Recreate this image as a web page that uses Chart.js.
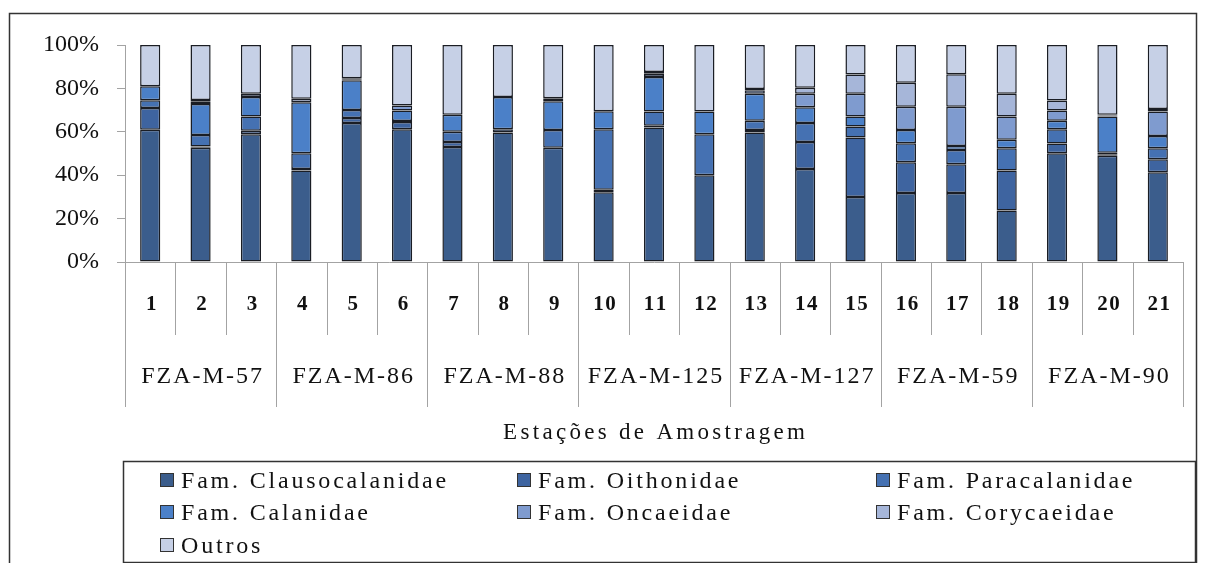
<!DOCTYPE html>
<html>
<head>
<meta charset="utf-8">
<script src="https://cdn.jsdelivr.net/npm/chart.js@4.4.1/dist/chart.umd.min.js"></script>
</head>
<body style="margin:0">
<canvas id="copepodChart" width="1206" height="563"></canvas>
<script>
// Stations and the cruise each group of three belongs to
const stations = ['1','2','3','4','5','6','7','8','9','10','11','12','13','14','15','16','17','18','19','20','21'];
const cruises = ['FZA-M-57','FZA-M-86','FZA-M-88','FZA-M-125','FZA-M-127','FZA-M-59','FZA-M-90'];
const stationsPerCruise = 3;

// Relative abundance (%) per station
const clausocalanidae = [61, 52.7, 58.9, 42.2, 64, 61.2, 53, 59.7, 52.7, 32.2, 62, 40, 59.7, 42.9, 29.9, 31.8, 31.8, 23.7, 50.1, 49, 41.4];
const oithonidae      = [10, 0.5, 1.6, 0.6, 2.4, 3.3, 2.3, 1.5, 0, 1.1, 0.8, 0, 1.1, 12.4, 27.5, 14.2, 13.2, 18.5, 4.5, 0.6, 5.9];
const paracalanidae   = [3.5, 5.3, 6.6, 7.3, 3.7, 0.5, 4.7, 0, 8.1, 27.9, 6.5, 18.9, 4.3, 8.7, 5.1, 8.7, 6.6, 10.2, 6.6, 0.8, 5.1];
const calanidae       = [6.5, 14.3, 8.9, 23.5, 13.6, 4.8, 7.9, 14.8, 13.3, 8.3, 16, 10.4, 12.4, 7.3, 4.5, 6.1, 1.9, 3.9, 3.9, 16.6, 5.7];
const oncaeidae       = [0, 1, 0, 0, 0.5, 2.3, 0, 0, 1.4, 0, 1.5, 0, 1.6, 6.2, 10.5, 10.8, 18.1, 10.8, 4.7, 0.5, 11.2];
const corycaeidae     = [0, 0.8, 1.5, 1.6, 0.5, 0, 0, 0, 0, 0, 0.8, 0, 0.6, 2.8, 8.9, 11, 14.9, 10.4, 4.6, 0.4, 1.2];
const outros          = [19, 25.4, 22.5, 24.8, 15.3, 27.9, 32.1, 24, 24.5, 30.5, 12.4, 30.7, 20.3, 19.7, 13.6, 17.4, 13.5, 22.5, 25.6, 32.1, 29.5];

const yTicks = [0, 20, 40, 60, 80, 100];

const serifFamily = '"Liberation Serif"';
const lineGray = '#a3a3a3';

Chart.defaults.font.family = serifFamily;

function series(label, data, color) {
  return {
    label: label,
    data: data,
    backgroundColor: color,
    borderColor: '#1a1d24',
    borderWidth: 1.5,
    borderSkipped: false,
    barPercentage: 0.4,
    categoryPercentage: 1.0
  };
}

// letters spaced by hand, like the wide serif of the original
function spacedText(c, text, x, y, sp, align) {
  const chars = Array.from(text);
  const widths = chars.map(ch => c.measureText(ch).width);
  const total = widths.reduce((a, b) => a + b, 0) + sp * (chars.length - 1);
  let cx = align === 'center' ? x - total / 2 : x;
  c.textAlign = 'left';
  chars.forEach((ch, i) => {
    c.fillText(ch, cx, y);
    cx += widths[i] + sp;
  });
}

// white page and outer frame
const framePlugin = {
  id: 'frame',
  beforeDraw(chart) {
    const c = chart.ctx;
    c.save();
    c.fillStyle = '#fff';
    c.fillRect(0, 0, chart.width, chart.height);
    c.strokeStyle = '#333';
    c.lineWidth = 1.5;
    c.strokeRect(9.5, 13.5, 1187, 580);
    c.restore();
  }
};

// two-level category axis: station numbers, cruise names, axis title
const groupAxisPlugin = {
  id: 'groupAxis',
  afterDraw(chart) {
    const c = chart.ctx;
    const x = chart.scales.x;
    const area = chart.chartArea;
    const bottom = area.bottom;
    const n = stations.length;
    const edge = i => {
      if (i === 0) return x.left;
      if (i === n) return x.right;
      return (x.getPixelForValue(i - 1) + x.getPixelForValue(i)) / 2;
    };

    c.save();
    c.strokeStyle = lineGray;
    c.lineWidth = 1;
    for (let i = 0; i <= n; i++) {
      const px = Math.round(edge(i)) + 0.5;
      const isGroup = i % stationsPerCruise === 0;
      c.beginPath();
      c.moveTo(px, bottom);
      c.lineTo(px, isGroup ? bottom + 145 : bottom + 73);
      c.stroke();
    }

    c.fillStyle = '#111';
    c.textBaseline = 'alphabetic';
    c.font = 'bold 21px ' + serifFamily;
    stations.forEach((s, i) => {
      spacedText(c, s, x.getPixelForValue(i) + 1, bottom + 48, 1.5, 'center');
    });

    c.font = '24px ' + serifFamily;
    cruises.forEach((name, g) => {
      const mid = (edge(g * stationsPerCruise) + edge((g + 1) * stationsPerCruise)) / 2;
      spacedText(c, name, mid + 1, bottom + 121, 2, 'center');
    });

    c.font = '23px ' + serifFamily;
    spacedText(c, 'Estações de Amostragem', (area.left + area.right) / 2, bottom + 177, 3.3, 'center');
    c.restore();
  }
};

// boxed legend in three columns
const boxLegendPlugin = {
  id: 'boxLegend',
  afterDraw(chart) {
    const c = chart.ctx;
    const sets = chart.data.datasets;
    const boxLeft = 123, boxTop = 461, boxRight = 1195, boxBottom = 562;
    const colX = [160, 517, 876];
    const rowY = [480, 512, 545];
    c.save();
    c.strokeStyle = '#333';
    c.lineWidth = 1.5;
    c.strokeRect(boxLeft + 0.5, boxTop + 0.5, boxRight - boxLeft, boxBottom - boxTop);
    c.font = '24px ' + serifFamily;
    c.textBaseline = 'alphabetic';
    sets.forEach((ds, i) => {
      const cx = colX[i % 3];
      const cy = rowY[Math.floor(i / 3)];
      c.fillStyle = ds.backgroundColor;
      c.fillRect(cx, cy - 7, 14, 14);
      c.strokeStyle = '#333';
      c.lineWidth = 1;
      c.strokeRect(cx + 0.5, cy - 6.5, 13, 13);
      c.fillStyle = '#111';
      spacedText(c, ds.label, cx + 21, cy + 8, 2.8, 'left');
    });
    c.restore();
  }
};

const copepodChart = new Chart(document.getElementById('copepodChart'), {
  type: 'bar',
  data: {
    labels: stations,
    datasets: [
      series('Fam. Clausocalanidae', clausocalanidae, '#3b5d8c'),
      series('Fam. Oithonidae', oithonidae, '#3e64a0'),
      series('Fam. Paracalanidae', paracalanidae, '#4571b2'),
      series('Fam. Calanidae', calanidae, '#4b80c8'),
      series('Fam. Oncaeidae', oncaeidae, '#7f9bcf'),
      series('Fam. Corycaeidae', corycaeidae, '#a6b6d9'),
      series('Outros', outros, '#c6d0e6')
    ]
  },
  options: {
    responsive: false,
    animation: false,
    layout: {
      padding: { top: 45, left: 10, right: 23, bottom: 0 }
    },
    plugins: {
      legend: { display: false },
      tooltip: { enabled: false }
    },
    scales: {
      x: {
        stacked: true,
        offset: true,
        grid: { display: false },
        border: { display: true, color: lineGray, width: 1 },
        ticks: { display: false },
        afterFit(scale) { scale.height = 301; }
      },
      y: {
        stacked: true,
        min: 0,
        max: 100,
        grid: {
          display: true,
          drawOnChartArea: false,
          drawTicks: true,
          tickLength: 8,
          color: lineGray
        },
        border: { display: true, color: lineGray, width: 1 },
        afterBuildTicks(scale) {
          scale.ticks = yTicks.map(v => ({ value: v }));
        },
        ticks: {
          padding: 18,
          color: '#111',
          font: { family: serifFamily, size: 24 },
          callback: v => v + '%'
        },
        afterFit(scale) { scale.width = 115; }
      }
    }
  },
  plugins: [framePlugin, groupAxisPlugin, boxLegendPlugin]
});
</script>
</body>
</html>
